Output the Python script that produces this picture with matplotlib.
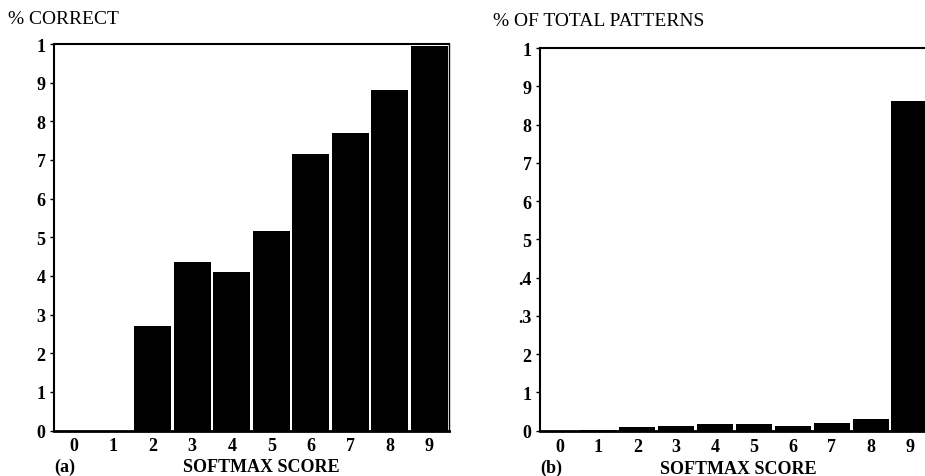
import matplotlib
matplotlib.use("Agg")
import matplotlib.pyplot as plt

scores = [0, 1, 2, 3, 4, 5, 6, 7, 8, 9]
pct_correct = [0.0, 0.0, 0.27, 0.435, 0.41, 0.517, 0.715, 0.77, 0.88, 0.995]
pct_total = [0.0, 0.001, 0.009, 0.013, 0.017, 0.017, 0.012, 0.02, 0.03, 0.862]
yticks = [0, 0.1, 0.2, 0.3, 0.4, 0.5, 0.6, 0.7, 0.8, 0.9, 1.0]
ylabels_a = ["0", "1", "2", "3", "4", "5", "6", "7", "8", "9", "1"]
ylabels_b = ["0", "1", "2", ".3", ".4", "5", "6", "7", "8", "9", "1"]
xlabels = [str(s) for s in scores]

plt.rcParams['font.family'] = ['Liberation Serif', 'DejaVu Serif']

W, H = 925, 477
fig = plt.figure(figsize=(W / 100, H / 100), dpi=100)

def px(x0, y_top, x1, y_bot):
    return [x0 / W, 1 - y_bot / H, (x1 - x0) / W, (y_bot - y_top) / H]

ax1 = fig.add_axes(px(54, 45, 449, 431.5))
ax2 = fig.add_axes(px(540, 49, 929, 431.7))

for ax, vals, ylabs in ((ax1, pct_correct, ylabels_a), (ax2, pct_total, ylabels_b)):
    ax.bar(scores, vals, width=0.93, color='black', edgecolor='none')
    ax.set_xlim(-0.5, 9.5)
    ax.set_ylim(0, 1.0)
    ax.set_yticks(yticks)
    ax.set_yticklabels(ylabs, fontsize=13, fontweight='bold')
    ax.set_xticks(scores)
    ax.set_xticklabels(xlabels, fontsize=13, fontweight='bold')
    ax.tick_params(axis='y', length=3, width=1.0, pad=3)
    ax.tick_params(axis='x', length=0, pad=5)
    for s in ax.spines.values():
        s.set_linewidth(1.0)
    ax.spines['bottom'].set_linewidth(2.0)
    ax.spines['left'].set_linewidth(1.5)
    ax.spines['top'].set_linewidth(1.5)

ax1.spines['right'].set_linewidth(1.0)

fig.text(8 / W, 1 - 20 / H, "% CORRECT", fontsize=14, va='center', ha='left')
fig.text(493 / W, 1 - 22 / H, "% OF TOTAL PATTERNS", fontsize=14, va='center', ha='left')
fig.text(261 / W, 1 - 468 / H, "SOFTMAX SCORE", fontsize=13, fontweight='bold', va='center', ha='center')
fig.text(738 / W, 1 - 470 / H, "SOFTMAX SCORE", fontsize=13, fontweight='bold', va='center', ha='center')
fig.text(65 / W, 1 - 467 / H, "(a)", fontsize=13, fontweight='bold', va='center', ha='center')
fig.text(551 / W, 1 - 468 / H, "(b)", fontsize=13, fontweight='bold', va='center', ha='center')

fig.savefig("out.png", dpi=100, facecolor='white')
